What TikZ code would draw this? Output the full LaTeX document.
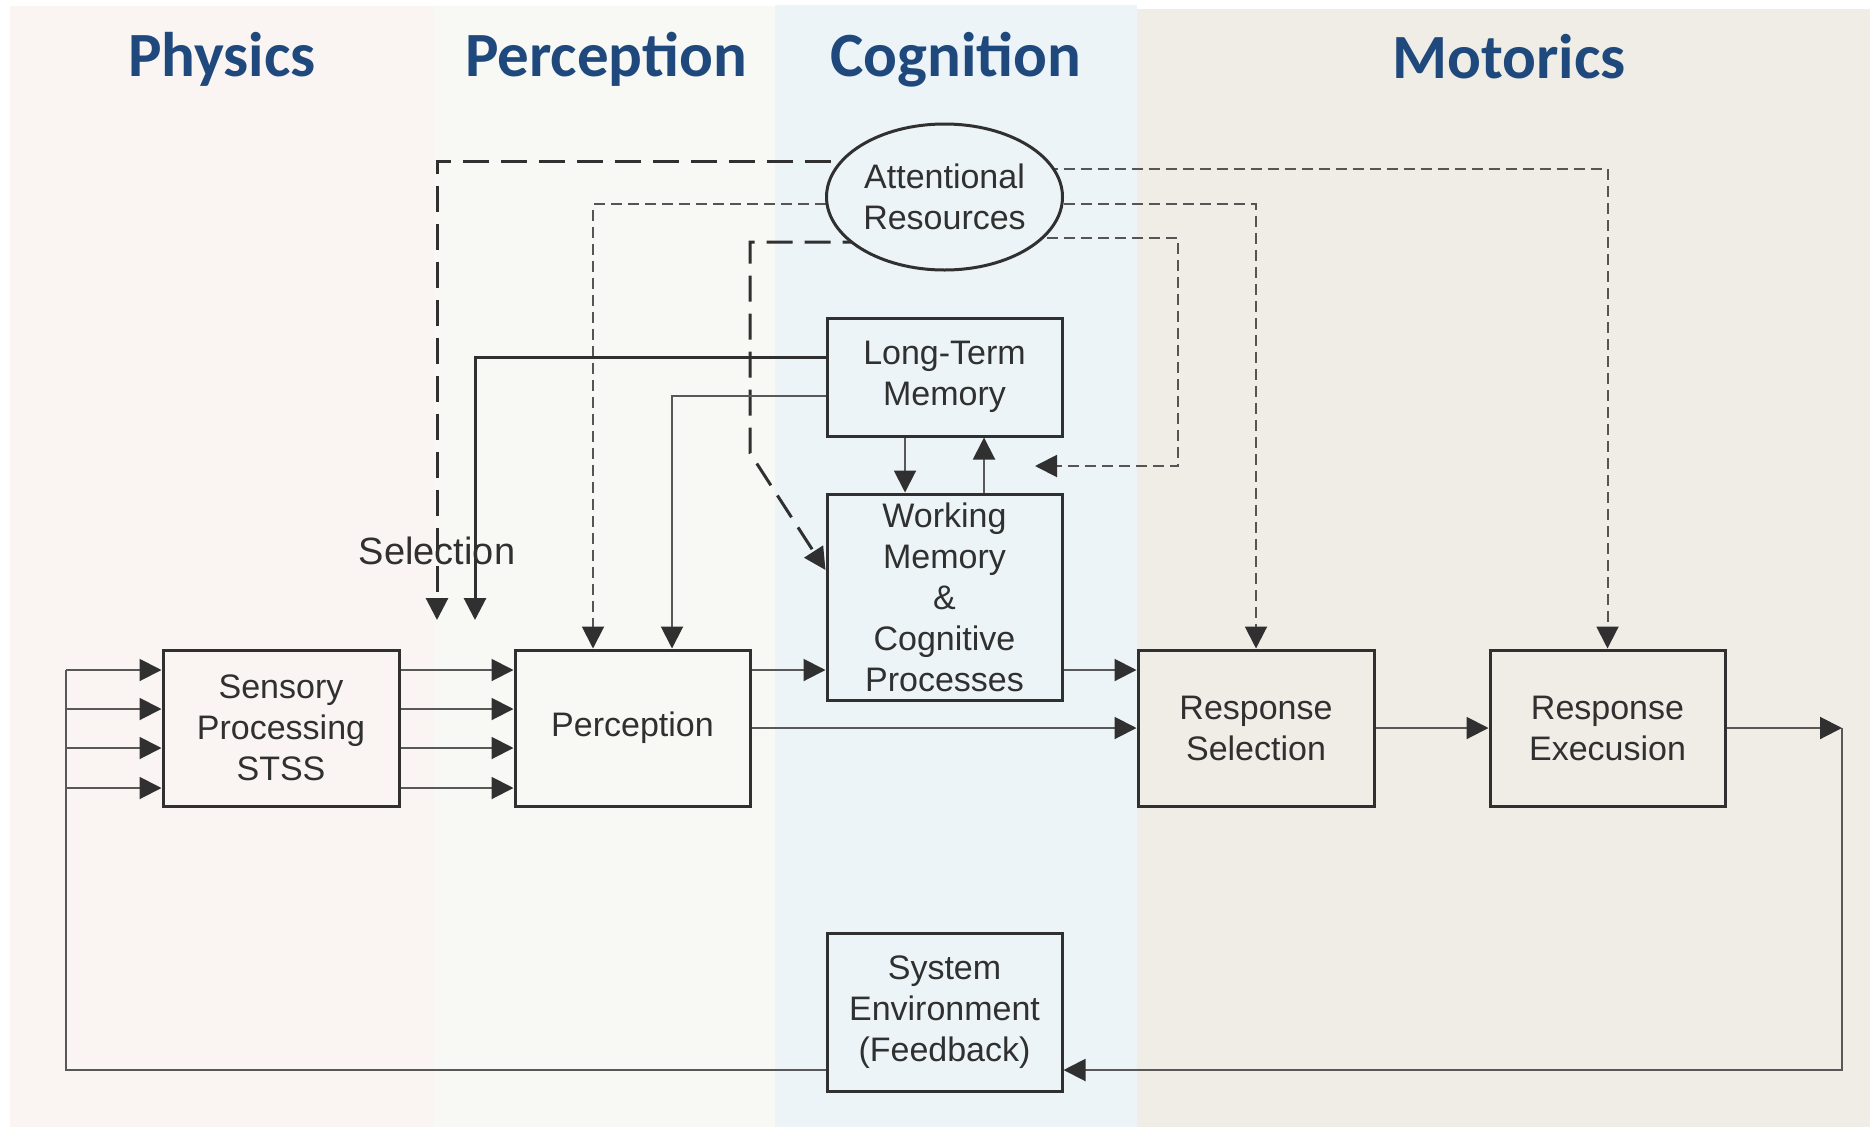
\documentclass[tikz,border=0pt]{standalone}
\usepackage{fontspec}
\setmainfont{Liberation Sans}
\newfontfamily\titlefont{Carlito}
\usetikzlibrary{arrows.meta,shapes.geometric,calc}
\definecolor{physbg}{RGB}{250,245,243}
\definecolor{percbg}{RGB}{248,248,244}
\definecolor{cogbg}{RGB}{236,244,248}
\definecolor{motbg}{RGB}{240,237,231}
\definecolor{titleblue}{RGB}{31,73,125}
\definecolor{ink}{RGB}{48,48,48}
\definecolor{linec}{RGB}{88,88,88}
\definecolor{dashc}{RGB}{85,85,85}
\pgfdeclarelayer{back}
\pgfdeclarelayer{conn}
\pgfsetlayers{back,conn,main}
\begin{document}
\begin{tikzpicture}[x=1pt,y=-1pt,
  >={Triangle[length=22pt,width=22pt,color=ink]},
  box/.style={draw=ink, line width=3pt, inner sep=0pt, align=center,
    font=\fontsize{34}{41}\selectfont, text=ink},
  attnshape/.style={ellipse, draw=ink, line width=3pt, fill=cogbg, inner sep=0pt,
    align=center, font=\fontsize{34}{41}\selectfont, text=ink,
    minimum width=236pt, minimum height=146pt},
  conn/.style={draw=linec, line width=2pt, ->},
  plainline/.style={draw=linec, line width=2pt},
  thickconn/.style={draw=ink, line width=3pt, ->},
  dshort/.style={draw=dashc, line width=2pt, dash pattern=on 11pt off 6pt, ->},
  dlong/.style={draw=ink, line width=3pt, dash pattern=on 26pt off 12pt, ->},
  title/.style={font=\titlefont\bfseries\fontsize{63}{70}\selectfont, text=titleblue, anchor=base},
  lbl/.style={font=\fontsize{38}{44}\selectfont, text=ink}
]
\useasboundingbox (0,0) rectangle (1870,1127);

% bands
\begin{pgfonlayer}{back}
\fill[white] (0,0) rectangle (1870,1127);
\fill[physbg] (10,6) rectangle (434,1127);
\fill[percbg] (434,6) rectangle (775,1127);
\fill[cogbg] (775,5) rectangle (1137,1127);
\fill[motbg] (1137,9) rectangle (1870,1127);
\end{pgfonlayer}

% titles
\node[title] (tphys) at (222,76) {Physics};
\node[title] (tperc) at (606,76) {Perception};
\node[title] (tcog) at (956,76) {Cognition};
\node[title] (tmot) at (1509,78) {Motorics};

% nodes
\node[box, minimum width=236pt, minimum height=156pt] (sens) at (281,728) {Sensory\\Processing\\STSS};
\node[box, minimum width=235pt, minimum height=156pt] (perc) at (632.5,728) {Perception};
\node[box, minimum width=236pt, minimum height=156pt] (rsel) at (1256,728) {Response\\Selection};
\node[box, minimum width=235pt, minimum height=156pt] (rexe) at (1607.5,728) {Response\\Execusion};
\node[box, minimum width=235pt, minimum height=118pt] (ltm) at (944.5,377) {Long-Term\\Memory};
\node[box, minimum width=235pt, minimum height=206pt] (wm) at (944.5,597) {Working\\Memory\\\&\\Cognitive\\Processes};
\node[box, minimum width=235pt, minimum height=158pt] (sys) at (944.5,1012) {System\\Environment\\(Feedback)};
\node[attnshape] (attn) at (944.5,197) {Attentional\\Resources};
\node[lbl] (sel) at (437,551) {Selection};

% helper coordinates
\coordinate (r161) at (0,161);
\coordinate (r169) at (0,169);
\coordinate (r204) at (0,204);
\coordinate (r238) at (0,238);
\coordinate (r242) at (0,242);
\coordinate (r357) at (0,357);
\coordinate (r396) at (0,396);
\coordinate (r570) at (0,570);
\coordinate (h670) at (0,670);
\coordinate (selA) at (437,620);
\coordinate (selB) at (475,620);
\coordinate (bendW) at (750,453);
\coordinate (bendR) at (1178,466);
\coordinate (ltmIn) at (1035,466);
\coordinate (fbR) at (1842,728);
\coordinate (fbB) at (1842,1070);
\coordinate (fbL) at (66,1070);
\coordinate (fbT) at (66,670);

\begin{pgfonlayer}{conn}
% attentional resources (dashed)
\draw[dlong] (attn.center |- r161) -| (selA);
\draw[dshort] (attn.center |- r204) -| ([xshift=-39.5pt]perc.north);
\draw[dlong] (attn.center |- r242) -| (bendW) -- (wm.west |- r570);
\draw[dshort] (attn.center |- r169) -| (rexe.north);
\draw[dshort] (attn.center |- r204) -| (rsel.north);
\draw[dshort] (attn.center |- r238) -| (bendR) -- (ltmIn);

% long-term memory
\draw[thickconn] (ltm.west |- r357) -| (selB);
\draw[conn] (ltm.west |- r396) -| ([xshift=39.5pt]perc.north);
\draw[conn] ([xshift=-39.5pt]ltm.south) -- ([xshift=-39.5pt]wm.north);
\draw[conn] ([xshift=39.5pt]wm.north) -- ([xshift=39.5pt]ltm.south);

% sensory inputs
\foreach \y in {670,709,748,788} {
  \coordinate (in\y) at (66,\y);
  \draw[conn] (in\y) -- (sens.west |- in\y);
  \draw[conn] (sens.east |- in\y) -- (perc.west |- in\y);
}

% main flow
\draw[conn] (perc.east |- h670) -- (wm.west |- h670);
\draw[conn] (wm.east |- h670) -- (rsel.west |- h670);
\draw[conn] (perc.east |- fbR) -- (rsel.west |- fbR);
\draw[conn] (rsel.east |- fbR) -- (rexe.west |- fbR);
\draw[conn] (rexe.east |- fbR) -- (fbR);
\draw[conn] (fbR) -- (fbB) -- (sys.east |- fbB);
\draw[plainline] (sys.west |- fbB) -- (fbL) -- (fbT);
\end{pgfonlayer}
\end{tikzpicture}
\end{document}
